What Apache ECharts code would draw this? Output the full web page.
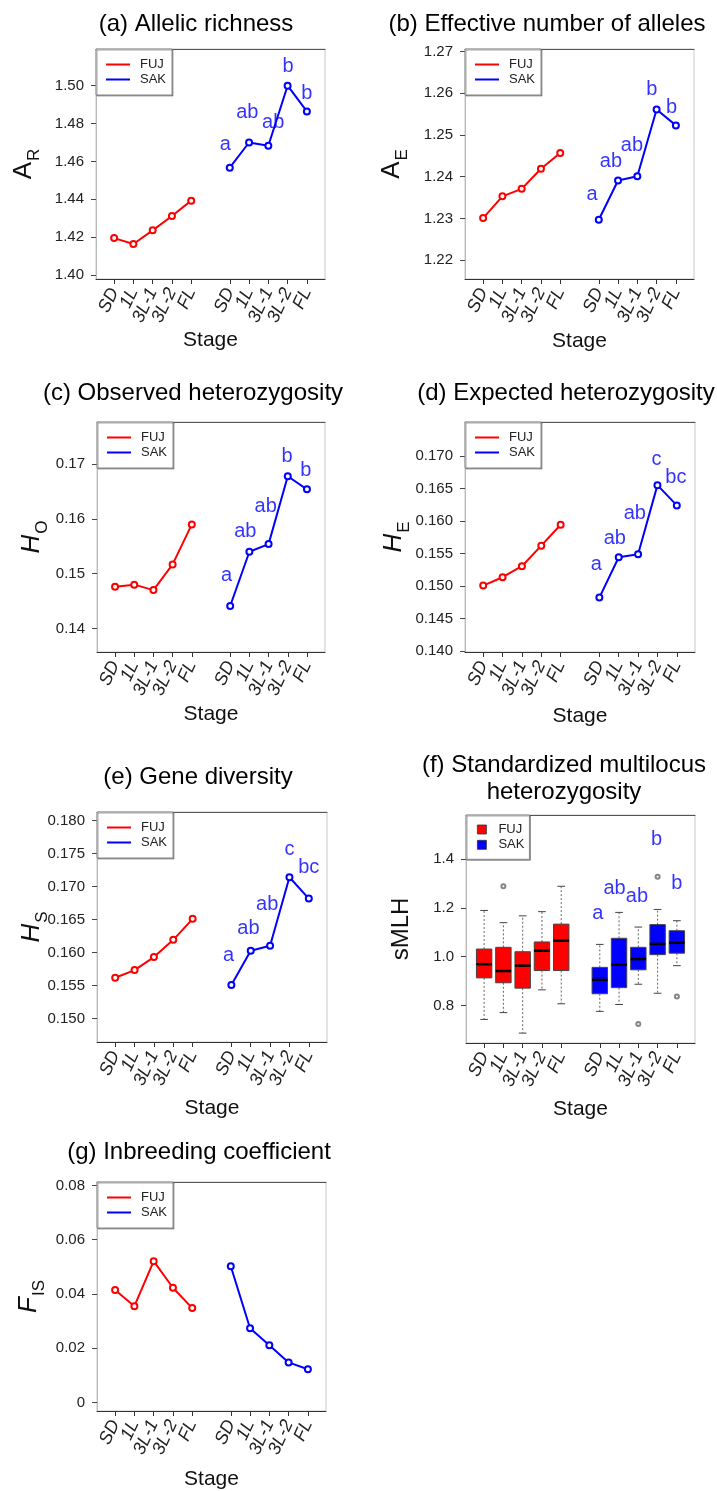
<!DOCTYPE html>
<html><head><meta charset="utf-8">
<script src="https://cdn.jsdelivr.net/npm/echarts@6/dist/echarts.min.js"></script>
<style>html,body{margin:0;padding:0;background:#fff}#c{width:717px;height:1491px}</style>
</head><body><div id="c"></div>
<script>
// ---------- DATA ----------
const stages = ['SD', '1L', '3L-1', '3L-2', 'FL'];
const fujPos = [1, 2, 3, 4, 5];
const sakPos = [7, 8, 9, 10, 11];

// (a) Allelic richness
const arFUJ = [1.4195, 1.4164, 1.4236, 1.4312, 1.4393];
const arSAK = [1.4567, 1.4700, 1.4683, 1.5000, 1.4864];
const arTicks = [1.40, 1.42, 1.44, 1.46, 1.48, 1.50];
const arLetters = ['a', 'ab', 'ab', 'b', 'b'];
const arLetterPos = [[6.77, 1.4688], [7.91, 1.4857], [9.25, 1.4805], [10.02, 1.5100], [11.0, 1.4958]];

// (b) Effective number of alleles
const aeFUJ = [1.2301, 1.2353, 1.2371, 1.2419, 1.2457];
const aeSAK = [1.2297, 1.2391, 1.2401, 1.2561, 1.2523];
const aeTicks = [1.22, 1.23, 1.24, 1.25, 1.26, 1.27];
const aeLetters = ['a', 'ab', 'ab', 'b', 'b'];
const aeLetterPos = [[6.65, 1.2358], [7.63, 1.2437], [8.72, 1.2475], [9.75, 1.2608], [10.78, 1.2567]];

// (c) Observed heterozygosity
const hoFUJ = [0.1476, 0.1480, 0.1470, 0.1517, 0.1590];
const hoSAK = [0.1441, 0.1540, 0.1554, 0.1678, 0.1654];
const hoTicks = [0.14, 0.15, 0.16, 0.17];
const hoLetters = ['a', 'ab', 'ab', 'b', 'b'];
const hoLetterPos = [[6.81, 0.14973], [7.79, 0.15767], [8.85, 0.16222], [9.96, 0.17133], [10.94, 0.16891]];

// (d) Expected heterozygosity
const heFUJ = [0.15006, 0.15135, 0.15304, 0.15620, 0.15942];
const heSAK = [0.14822, 0.15442, 0.15488, 0.16551, 0.16239];
const heTicks = [0.140, 0.145, 0.150, 0.155, 0.160, 0.165, 0.170];
const heLetters = ['a', 'ab', 'ab', 'c', 'bc'];
const heLetterPos = [[6.84, 0.15328], [7.80, 0.15733], [8.83, 0.16117], [9.95, 0.16939], [10.95, 0.16669]];

// (e) Gene diversity
const hsFUJ = [0.15617, 0.15733, 0.15930, 0.16192, 0.16511];
const hsSAK = [0.15506, 0.16026, 0.16102, 0.17142, 0.16818];
const hsTicks = [0.150, 0.155, 0.160, 0.165, 0.170, 0.175, 0.180];
const hsLetters = ['a', 'ab', 'ab', 'c', 'bc'];
const hsLetterPos = [[6.86, 0.15955], [7.88, 0.16370], [8.85, 0.16723], [10.0, 0.17561], [11.0, 0.17294]];

// (f) Standardized multilocus heterozygosity: [low whisker, Q1, median, Q3, high whisker]
const smlhFUJ = [
  [0.743, 0.913, 0.969, 1.031, 1.189],
  [0.771, 0.893, 0.941, 1.038, 1.139],
  [0.687, 0.871, 0.963, 1.020, 1.167],
  [0.864, 0.943, 1.024, 1.060, 1.184],
  [0.807, 0.943, 1.065, 1.133, 1.288]
];
const smlhSAK = [
  [0.776, 0.848, 0.905, 0.956, 1.050],
  [0.804, 0.873, 0.967, 1.075, 1.181],
  [0.887, 0.946, 0.990, 1.038, 1.121],
  [0.850, 1.008, 1.052, 1.131, 1.193],
  [0.963, 1.014, 1.057, 1.106, 1.147]
];
const smlhOutFUJ = [[2, 1.288]];
const smlhOutSAK = [[9, 0.724], [10, 1.327], [11, 0.837]];
const smlhTicks = [0.8, 1.0, 1.2, 1.4];
const smlhLetters = ['a', 'ab', 'ab', 'b', 'b'];
const smlhLetterPos = [[6.90, 1.1755], [7.77, 1.2792], [8.93, 1.2478], [9.95, 1.4804], [11.0, 1.2996]];

// (g) Inbreeding coefficient
const fisFUJ = [0.0415, 0.0355, 0.0521, 0.0423, 0.0348];
const fisSAK = [0.0502, 0.0274, 0.0211, 0.0148, 0.0123];
const fisTicks = [0, 0.02, 0.04, 0.06, 0.08];

// ---------- LAYOUT ----------
const FONT = '"Liberation Sans", Arial, Helvetica, sans-serif';
const RED = '#ff0000', BLUE = '#0000ff';
const ALL_POS = fujPos.concat(sakPos);
const ODD_POS = ALL_POS.filter((v, k) => k % 2 === 0);
const EVEN_POS = ALL_POS.filter((v, k) => k % 2 === 1);

const panels = [
  {title: '(a) Allelic richness', tx: 196, ty: 24, left: 96, top: 49, w: 229, h: 230,
   yMin: 1.3979, yMax: 1.5194, ticks: arTicks, dec: 2, fuj: arFUJ, sak: arSAK,
   letters: arLetters, letterPos: arLetterPos, yName: ['A', 'R'], italic: false, nameGap: 55, xNameGap: 51},
  {title: '(b) Effective number of alleles', tx: 547, ty: 24, left: 465, top: 49, w: 229, h: 230,
   yMin: 1.2155, yMax: 1.2706, ticks: aeTicks, dec: 2, fuj: aeFUJ, sak: aeSAK,
   letters: aeLetters, letterPos: aeLetterPos, yName: ['A', 'E'], italic: false, nameGap: 56, xNameGap: 52},
  {title: '(c) Observed heterozygosity', tx: 193, ty: 393.5, left: 97, top: 422, w: 228, h: 230,
   yMin: 0.1357, yMax: 0.1777, ticks: hoTicks, dec: 2, fuj: hoFUJ, sak: hoSAK,
   letters: hoLetters, letterPos: hoLetterPos, yName: ['H', 'O'], italic: true, nameGap: 48, xNameGap: 52},
  {title: '(d) Expected heterozygosity', tx: 566, ty: 393.5, left: 465, top: 422, w: 230, h: 230,
   yMin: 0.13985, yMax: 0.17522, ticks: heTicks, dec: 3, fuj: heFUJ, sak: heSAK,
   letters: heLetters, letterPos: heLetterPos, yName: ['H', 'E'], italic: true, nameGap: 54, xNameGap: 54},
  {title: '(e) Gene diversity', tx: 198, ty: 777.5, left: 97, top: 812, w: 230, h: 230,
   yMin: 0.14642, yMax: 0.18132, ticks: hsTicks, dec: 3, fuj: hsFUJ, sak: hsSAK,
   letters: hsLetters, letterPos: hsLetterPos, yName: ['H', 'S'], italic: true, nameGap: 48, xNameGap: 56},
  {title: '(f) Standardized multilocus\nheterozygosity', tx: 564, ty: 778.5, left: 466, top: 815, w: 229, h: 228,
   yMin: 0.6465, yMax: 1.5796, ticks: smlhTicks, dec: 1, box: true,
   letters: smlhLetters, letterPos: smlhLetterPos, yName: null, nameGap: 53, xNameGap: 56},
  {title: '(g) Inbreeding coefficient', tx: 199, ty: 1152.5, left: 97, top: 1182, w: 229, h: 229,
   yMin: -0.00309, yMax: 0.08125, ticks: fisTicks, dec: 2, fuj: fisFUJ, sak: fisSAK,
   letters: null, letterPos: null, yName: ['F', 'IS'], italic: true, nameGap: 51, xNameGap: 58}
];

function stageLabel(v) {
  const i = ALL_POS.indexOf(Math.round(v));
  return i < 0 ? '' : stages[i % 5];
}

const option = {
  animation: false,
  textStyle: {fontFamily: FONT},
  grid: [], xAxis: [], yAxis: [], series: [], legend: [], graphic: []
};

function boxRender(color) {
  return function (params, api) {
    const x = api.value(0);
    const lo = api.value(1), q1 = api.value(2), med = api.value(3), q3 = api.value(4), hi = api.value(5);
    const c = (xx, yy) => api.coord([xx, yy]);
    const hw = api.size([0.4, 0])[0];
    const sw = api.size([0.2, 0])[0];
    const pLo = c(x, lo), pQ1 = c(x, q1), pMed = c(x, med), pQ3 = c(x, q3), pHi = c(x, hi);
    const cx = pMed[0];
    const dash = {stroke: '#666', lineWidth: 1, lineDash: [2, 2]};
    const cap = {stroke: '#444', lineWidth: 1};
    return {type: 'group', children: [
      {type: 'line', shape: {x1: cx, y1: pQ3[1], x2: cx, y2: pHi[1]}, style: dash},
      {type: 'line', shape: {x1: cx, y1: pQ1[1], x2: cx, y2: pLo[1]}, style: dash},
      {type: 'line', shape: {x1: cx - sw, y1: pHi[1], x2: cx + sw, y2: pHi[1]}, style: cap},
      {type: 'line', shape: {x1: cx - sw, y1: pLo[1], x2: cx + sw, y2: pLo[1]}, style: cap},
      {type: 'rect', shape: {x: cx - hw, y: pQ3[1], width: 2 * hw, height: pQ1[1] - pQ3[1]},
       style: {fill: color, stroke: '#444', lineWidth: 1}},
      {type: 'line', shape: {x1: cx - hw, y1: pMed[1], x2: cx + hw, y2: pMed[1]},
       style: {stroke: '#000', lineWidth: 2.5}}
    ]};
  };
}

function labelAxis(i, vals) {
  return {
    gridIndex: i, type: 'value', min: 0.06, max: 11.94, position: 'bottom', offset: 0,
    axisLine: {show: false, onZero: false}, axisTick: {show: false}, splitLine: {show: false},
    axisLabel: {show: true, customValues: vals, rotate: 65, margin: 10, fontSize: 18,
      hideOverlap: false, showMinLabel: true, showMaxLabel: true,
      fontStyle: 'italic', color: '#222', fontFamily: FONT, formatter: v => stageLabel(v)}
  };
}

panels.forEach((p, i) => {
  option.grid.push({left: p.left, top: p.top, width: p.w, height: p.h, show: true,
    borderColor: '#c8c8c8', borderWidth: 1, backgroundColor: 'transparent',
    containLabel: false, outerBoundsMode: 'none'});

  const xi = option.xAxis.length;
  option.xAxis.push({
    gridIndex: i, type: 'value', min: 0.06, max: 11.94, position: 'bottom', offset: 0,
    axisLine: {show: true, onZero: false, lineStyle: {color: '#333', width: 1}},
    axisTick: {show: true, customValues: ALL_POS, length: 5, lineStyle: {color: '#333'}},
    axisLabel: {show: false},
    splitLine: {show: false},
    name: 'Stage', nameLocation: 'middle', nameGap: p.xNameGap, nameMoveOverlap: false,
    nameTextStyle: {fontSize: 21, color: '#111', fontFamily: FONT}
  });
  option.xAxis.push({
    gridIndex: i, type: 'value', min: 0.06, max: 11.94, position: 'top', offset: 0,
    axisLine: {show: true, onZero: false, lineStyle: {color: '#555', width: 1}},
    axisTick: {show: false}, axisLabel: {show: false}, splitLine: {show: false}
  });
  option.xAxis.push(labelAxis(i, ODD_POS));
  option.xAxis.push(labelAxis(i, EVEN_POS));

  const yName = p.yName ? '{m|' + p.yName[0] + '}{s|' + p.yName[1] + '}' : 'sMLH';
  option.yAxis.push({
    gridIndex: i, type: 'value', min: p.yMin, max: p.yMax,
    axisLine: {show: true, onZero: false, lineStyle: {color: '#b8b8b8', width: 1}},
    axisTick: {show: true, customValues: p.ticks, length: 5, lineStyle: {color: '#444'}},
    axisLabel: {show: true, customValues: p.ticks, margin: 12, fontSize: 15, color: '#222', fontFamily: FONT,
      hideOverlap: false, showMinLabel: true, showMaxLabel: true,
      formatter: v => (Math.abs(v) < 1e-12 ? '0' : v.toFixed(p.dec))},
    splitLine: {show: false},
    name: yName, nameLocation: 'middle', nameGap: p.nameGap, nameRotate: 90, nameMoveOverlap: false,
    nameTextStyle: p.yName ? {
      color: '#111',
      rich: {
        m: {fontSize: 26, lineHeight: 30, verticalAlign: 'top', color: '#111', fontFamily: FONT,
            fontStyle: p.italic ? 'italic' : 'normal'},
        s: {fontSize: 17, lineHeight: 17, verticalAlign: 'top', padding: [15, 0, 0, 1], color: '#111', fontFamily: FONT}
      }
    } : {fontSize: 24, color: '#111', fontFamily: FONT}
  });

  if (p.box) {
    option.series.push({
      type: 'custom', name: 'FUJ', xAxisIndex: xi, yAxisIndex: i, color: RED,
      itemStyle: {color: RED}, renderItem: boxRender(RED),
      encode: {x: 0, y: [1, 2, 3, 4, 5]},
      data: smlhFUJ.map((b, k) => [fujPos[k]].concat(b)), z: 3
    });
    option.series.push({
      type: 'custom', name: 'SAK', xAxisIndex: xi, yAxisIndex: i, color: BLUE,
      itemStyle: {color: BLUE}, renderItem: boxRender(BLUE),
      encode: {x: 0, y: [1, 2, 3, 4, 5]},
      data: smlhSAK.map((b, k) => [sakPos[k]].concat(b)), z: 3
    });
    option.series.push({
      type: 'scatter', name: 'outliers', xAxisIndex: xi, yAxisIndex: i,
      data: smlhOutFUJ.concat(smlhOutSAK), symbol: 'emptyCircle', symbolSize: 4,
      itemStyle: {color: '#666', borderWidth: 0.8}, silent: true, z: 4
    });
    option.legend.push({
      selectedMode: false, orient: 'vertical', left: p.left, top: p.top,
      padding: [8, 5, 8, 11], itemGap: 2.3, itemWidth: 9, itemHeight: 9,
      borderColor: '#888', borderWidth: 1, backgroundColor: '#fff',
      shadowColor: 'rgba(0,0,0,0.35)', shadowOffsetX: 1, shadowOffsetY: 1, shadowBlur: 0,
      textStyle: {fontSize: 13, color: '#222', padding: [0, 0, 0, 7], lineHeight: 13, fontFamily: FONT},
      data: [{name: 'FUJ', icon: 'rect', itemStyle: {color: RED, borderColor: '#333', borderWidth: 0.8}},
             {name: 'SAK', icon: 'rect', itemStyle: {color: BLUE, borderColor: '#333', borderWidth: 0.8}}],
      z: 10
    });
  } else {
    [['FUJ', fujPos, p.fuj, RED], ['SAK', sakPos, p.sak, BLUE]].forEach(([nm, pos, vals, col]) => {
      option.series.push({
        type: 'line', name: nm, xAxisIndex: xi, yAxisIndex: i, color: col,
        data: pos.map((x, k) => [x, vals[k]]),
        symbol: 'emptyCircle', symbolSize: 6, showSymbol: true,
        lineStyle: {color: col, width: 2}, itemStyle: {color: col, borderWidth: 1.5},
        silent: true, z: 3
      });
    });
    option.legend.push({
      selectedMode: false, orient: 'vertical', left: p.left, top: p.top,
      padding: [9, 6, 9, 10], itemGap: 2, itemWidth: 24, itemHeight: 2,
      borderColor: '#888', borderWidth: 1, backgroundColor: '#fff',
      shadowColor: 'rgba(0,0,0,0.35)', shadowOffsetX: 1, shadowOffsetY: 1, shadowBlur: 0,
      textStyle: {fontSize: 13, color: '#222', padding: [0, 0, 0, 5], lineHeight: 13, fontFamily: FONT},
      data: [{name: 'FUJ', icon: 'rect', itemStyle: {color: RED}},
             {name: 'SAK', icon: 'rect', itemStyle: {color: BLUE}}],
      z: 10
    });
  }

  if (p.letters) {
    option.series.push({
      type: 'scatter', name: 'letters' + i, xAxisIndex: xi, yAxisIndex: i,
      data: p.letterPos, symbolSize: 0.1, itemStyle: {color: 'transparent'},
      label: {show: true, position: 'inside', formatter: q => p.letters[q.dataIndex],
        color: BLUE, fontSize: 20, fontFamily: FONT},
      silent: true, z: 5
    });
  }

  option.graphic.push({
    type: 'text', x: p.tx, y: p.ty, silent: true,
    style: {text: p.title, fill: '#000', font: '24px ' + FONT, fontSize: 24, fontFamily: FONT,
      align: 'center', verticalAlign: 'middle', lineHeight: 27}
  });
});

const chart = echarts.init(document.getElementById('c'), null, {renderer: 'canvas', width: 717, height: 1491});
chart.setOption(option);
</script>
</body></html>
